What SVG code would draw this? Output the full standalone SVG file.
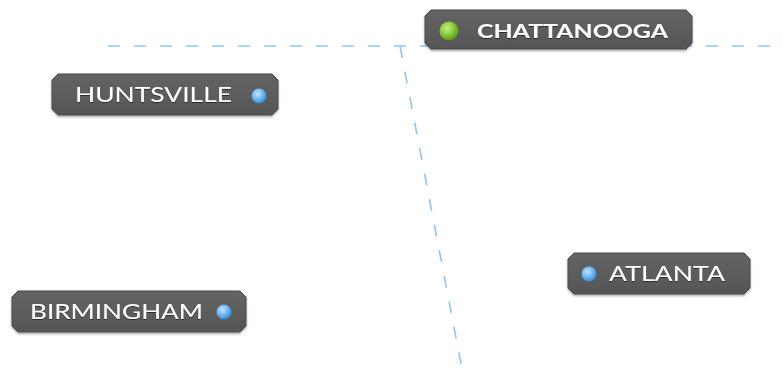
<svg xmlns="http://www.w3.org/2000/svg" width="783" height="369" viewBox="0 0 783 369">
  <style>
    .link { fill: none; stroke: #90c6f2; stroke-width: 1.6; stroke-dasharray: 12 14; }
    .box { fill: url(#boxFill); stroke: #4a4a4a; stroke-width: 1; filter: url(#shadow); }
    .label { font-family: "Lato", "Liberation Sans", sans-serif; font-size: 20.5px; fill: #ffffff; filter: url(#textShadow); }
    .bold { font-weight: bold; font-size: 19.5px; }
  </style>
  <defs>
    <linearGradient id="boxFill" x1="0" y1="0" x2="0" y2="1">
      <stop offset="0" stop-color="#646464"/>
      <stop offset="1" stop-color="#555555"/>
    </linearGradient>
    <radialGradient id="blueDot" cx="0.4" cy="0.35" r="0.7">
      <stop offset="0" stop-color="#c4e5ff"/>
      <stop offset="0.5" stop-color="#70b9f6"/>
      <stop offset="1" stop-color="#3283d3"/>
    </radialGradient>
    <radialGradient id="greenDot" cx="0.4" cy="0.35" r="0.7">
      <stop offset="0" stop-color="#c8ef8a"/>
      <stop offset="0.5" stop-color="#88cc3a"/>
      <stop offset="1" stop-color="#4d8f16"/>
    </radialGradient>
    <filter id="shadow" x="-10%" y="-20%" width="120%" height="150%">
      <feDropShadow dx="0" dy="1.5" stdDeviation="1.2" flood-color="#000" flood-opacity="0.35"/>
    </filter>
    <filter id="textShadow" x="-5%" y="-20%" width="110%" height="150%">
      <feDropShadow dx="0" dy="1" stdDeviation="0.6" flood-color="#222" flood-opacity="0.8"/>
    </filter>
  </defs>

  <!-- connectors -->
  <g id="connectors">
    <line class="link" x1="108" y1="46" x2="783" y2="46"/>
    <line class="link" x1="400" y1="46" x2="462" y2="369"/>
  </g>

  <!-- Chattanooga (root) -->
  <g id="node-chattanooga">
    <path class="box" d="M431,10 H686 L692,16 V43 L686,49 H431 L425,43 V16 Z"/>
    <circle cx="449" cy="31" r="9.5" fill="url(#greenDot)"/>
    <text class="label bold" x="477" y="38" textLength="191" lengthAdjust="spacingAndGlyphs">CHATTANOOGA</text>
  </g>

  <!-- Huntsville -->
  <g id="node-huntsville">
    <path class="box" d="M58,74 H272 L278,80 V109 L272,115 H58 L52,109 V80 Z"/>
    <text class="label" x="75" y="102" textLength="157" lengthAdjust="spacingAndGlyphs">HUNTSVILLE</text>
    <circle cx="259" cy="96" r="7.5" fill="url(#blueDot)"/>
  </g>

  <!-- Birmingham -->
  <g id="node-birmingham">
    <path class="box" d="M18,291 H240 L246,297 V326 L240,332 H18 L12,326 V297 Z"/>
    <text class="label" x="30" y="319" textLength="173" lengthAdjust="spacingAndGlyphs">BIRMINGHAM</text>
    <circle cx="224" cy="312" r="7.5" fill="url(#blueDot)"/>
  </g>

  <!-- Atlanta -->
  <g id="node-atlanta">
    <path class="box" d="M574,253 H744 L750,259 V288 L744,294 H574 L568,288 V259 Z"/>
    <circle cx="589" cy="274" r="7.5" fill="url(#blueDot)"/>
    <text class="label" x="609" y="281" textLength="116" lengthAdjust="spacingAndGlyphs">ATLANTA</text>
  </g>
</svg>
